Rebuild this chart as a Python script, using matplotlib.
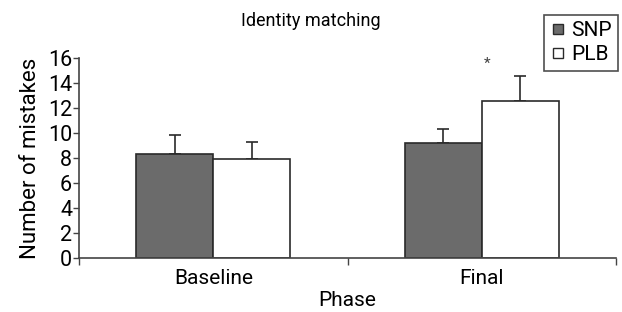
import numpy as np
import matplotlib
matplotlib.use("Agg")
import matplotlib.pyplot as plt
from matplotlib.lines import Line2D

plt.rcParams['font.family'] = ['Roboto', 'DejaVu Sans']

phases = ["Baseline", "Final"]
groups = ["SNP", "PLB"]
snp_mean = [8.35, 9.2]
snp_err = [1.5, 1.1]
plb_mean = [7.9, 12.55]
plb_err = [1.4, 2.0]
yticks = list(range(0, 17, 2))

fig = plt.figure(figsize=(6.22, 3.12), dpi=100)
ax = fig.add_axes([79 / 622, 1 - 258 / 312, (616 - 79) / 622, 200 / 312])

x = np.array([0.5, 1.5])
w = 0.287
edge = "#2a2a2a"
ax.bar(x - w / 2, snp_mean, w, color="#6b6b6b", edgecolor=edge, linewidth=1.2, zorder=2)
ax.bar(x + w / 2, plb_mean, w, color="white", edgecolor=edge, linewidth=1.2, zorder=2)
ax.errorbar(x - w / 2, snp_mean, yerr=[np.zeros(2), snp_err], fmt="none",
            ecolor=edge, elinewidth=1.2, capsize=4, capthick=1.2, zorder=1)
ax.errorbar(x + w / 2, plb_mean, yerr=[np.zeros(2), plb_err], fmt="none",
            ecolor=edge, elinewidth=1.2, capsize=4, capthick=1.2, zorder=1)

# significance marker
ax.text(x[1] + 0.02, 15.5, "*", ha="center", va="center", fontsize=11, color="#444444")

ax.set_xlim(0, 2)
ax.set_ylim(0, 16)
ax.set_yticks(yticks)
ax.tick_params(axis="y", labelsize=15.5, length=4, width=1, color="#444444", pad=1)
ax.set_xticks([0, 1, 2])
ax.set_xticklabels([])
ax.set_xticks(x, minor=True)
ax.set_xticklabels(phases, minor=True)
ax.tick_params(axis="x", which="major", length=5, width=1, color="#444444")
ax.tick_params(axis="x", which="minor", length=0, labelsize=15, pad=8)
for s in ["top", "right"]:
    ax.spines[s].set_visible(False)
for s in ["left", "bottom"]:
    ax.spines[s].set_color("#444444")
    ax.spines[s].set_linewidth(1.2)

ax.set_ylabel("Number of mistakes", fontsize=16, labelpad=5)
ax.set_xlabel("Phase", fontsize=15, labelpad=2)
fig.text(311 / 622, 1 - 21 / 312, "Identity matching", ha="center", va="center", fontsize=13)

handles = [
    Line2D([], [], marker="s", linestyle="none", markerfacecolor="#6b6b6b",
           markeredgecolor=edge, markersize=7),
    Line2D([], [], marker="s", linestyle="none", markerfacecolor="white",
           markeredgecolor=edge, markersize=7),
]
leg = fig.legend(handles, groups, loc="upper right", bbox_to_anchor=(618 / 622, 1 - 15 / 312),
                 fontsize=15, frameon=True, fancybox=False, handlelength=0.7,
                 handletextpad=0.3, borderpad=0.3, labelspacing=0.25, borderaxespad=0)
leg.get_frame().set_edgecolor("#222222")
leg.get_frame().set_linewidth(1.2)

fig.savefig("out.png", dpi=100)
